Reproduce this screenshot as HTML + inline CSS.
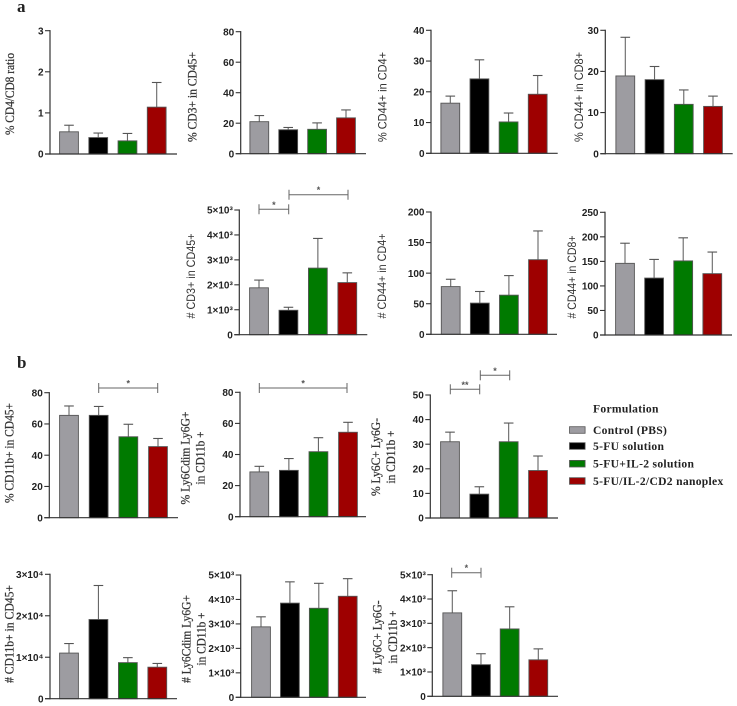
<!DOCTYPE html>
<html lang="en">
<head>
<meta charset="utf-8">
<title>Immune cell populations by formulation</title>
<style>
html,body{margin:0;padding:0;background:#fff;width:737px;height:706px;overflow:hidden}
svg{display:block;filter:blur(0.35px)}
.tick{font:bold 10px "Liberation Sans",sans-serif;fill:#222}
.serif{font:12.6px "Liberation Serif",serif;fill:#333;stroke:#333;stroke-width:.25px}
.sans{font:11.6px "Liberation Sans",sans-serif;fill:#333}
.sec{font:bold 17px "Liberation Serif",serif;fill:#222}
.leg{font:bold 11.6px "Liberation Serif",serif;fill:#222;letter-spacing:.3px}
.star{font:bold 9px "Liberation Sans",sans-serif;fill:#555}
</style>
</head>
<body>
<svg id="figure" width="737" height="706" viewBox="0 0 737 706" xmlns="http://www.w3.org/2000/svg"></svg>
<script>
// ---- data ----
const categories = ['Control (PBS)', '5-FU solution', '5-FU+IL-2 solution', '5-FU/IL-2/CD2 nanoplex'];
const seriesColors = ['#9d9ca1', '#000000', '#007a00', '#9e0000'];

const cd4Cd8Means = [0.54, 0.40, 0.32, 1.14];
const cd4Cd8Upper = [0.70, 0.51, 0.50, 1.74];
const cd4Cd8Ticks = [0, 1, 2, 3];

const cd3PctMeans = [21, 15.7, 16, 23.5];
const cd3PctUpper = [25, 17.2, 20.2, 28.7];
const cd3PctTicks = [0, 20, 40, 60, 80];

const cd44Cd4PctMeans = [16.3, 24.2, 10.2, 19.2];
const cd44Cd4PctUpper = [18.6, 30.4, 13.1, 25.3];
const cd44Cd4PctTicks = [0, 10, 20, 30, 40];

const cd44Cd8PctMeans = [18.9, 18, 12, 11.5];
const cd44Cd8PctUpper = [28.3, 21.2, 15.5, 14];
const cd44Cd8PctTicks = [0, 10, 20, 30];

const cd3CountMeans = [1880, 980, 2670, 2090];
const cd3CountUpper = [2190, 1100, 3860, 2480];
const thousandsTicks = [0, 1000, 2000, 3000, 4000, 5000];
const thousandsLabels = ['0', '1×10³', '2×10³', '3×10³', '4×10³', '5×10³'];

const cd44Cd4CountMeans = [78, 51, 64, 122];
const cd44Cd4CountUpper = [90, 70, 96, 169];
const cd44Cd4CountTicks = [0, 50, 100, 150, 200];

const cd44Cd8CountMeans = [146, 116, 151, 125];
const cd44Cd8CountUpper = [187, 154, 198, 169];
const cd44Cd8CountTicks = [0, 50, 100, 150, 200, 250];

const cd11bPctMeans = [65.5, 65.5, 51.8, 45.5];
const cd11bPctUpper = [71.5, 71.2, 59.8, 50.7];
const cd11bPctTicks = [0, 20, 40, 60, 80];

const ly6dimPctMeans = [28.8, 29.8, 41.8, 54.3];
const ly6dimPctUpper = [32.4, 37.4, 50.8, 60.7];
const ly6dimPctTicks = [0, 20, 40, 60, 80];

const ly6cPctMeans = [31, 9.7, 31, 19.3];
const ly6cPctUpper = [34.9, 12.7, 38.6, 25.2];
const ly6cPctTicks = [0, 10, 20, 30, 40, 50];

const cd11bCountMeans = [11000, 19100, 8700, 7600];
const cd11bCountUpper = [13300, 27300, 9900, 8500];
const cd11bCountTicks = [0, 10000, 20000, 30000];
const cd11bCountLabels = ['0', '1×10⁴', '2×10⁴', '3×10⁴'];

const ly6dimCountMeans = [2880, 3850, 3640, 4130];
const ly6dimCountUpper = [3290, 4720, 4660, 4850];

const ly6cCountMeans = [3430, 1300, 2770, 1500];
const ly6cCountUpper = [4340, 1750, 3680, 1950];

// ---- layout ----
const panels = [
 {id:'cd4-cd8-ratio', means:cd4Cd8Means, upper:cd4Cd8Upper, ticks:cd4Cd8Ticks, ax:50, top:30.7, bot:154, end:177, b0:69, b3:156.7,
  title:['% CD4/CD8 ratio'], len:[82], lx:[9.5], ly:94, font:'serif'},
 {id:'cd3-percent', means:cd3PctMeans, upper:cd3PctUpper, ticks:cd3PctTicks, ax:240.7, top:31.7, bot:153.7, end:366, b0:259.3, b3:346,
  title:['% CD3+ in CD45+'], len:[90], lx:[192], ly:97, font:'serif'},
 {id:'cd44-cd4-percent', means:cd44Cd4PctMeans, upper:cd44Cd4PctUpper, ticks:cd44Cd4PctTicks, ax:431, top:30.3, bot:153.3, end:557.7, b0:450.3, b3:537.7,
  title:['% CD44+ in CD4+'], len:[90], lx:[382.7], ly:97, font:'sans'},
 {id:'cd44-cd8-percent', means:cd44Cd8PctMeans, upper:cd44Cd8PctUpper, ticks:cd44Cd8PctTicks, ax:605.3, top:30.3, bot:153.7, end:732.7, b0:625.3, b3:713,
  title:['% CD44+ in CD8+'], len:[90], lx:[579], ly:97, font:'sans'},
 {id:'cd3-count', means:cd3CountMeans, upper:cd3CountUpper, ticks:thousandsTicks, labels:thousandsLabels, ax:239.3, top:210, bot:334.7, end:367.3, b0:259, b3:347.3,
  title:['# CD3+ in CD45+'], len:[85], lx:[191], ly:276, font:'sans'},
 {id:'cd44-cd4-count', means:cd44Cd4CountMeans, upper:cd44Cd4CountUpper, ticks:cd44Cd4CountTicks, ax:431, top:212, bot:334.3, end:557, b0:450.7, b3:538,
  title:['# CD44+ in CD4+'], len:[85], lx:[382], ly:276, font:'sans'},
 {id:'cd44-cd8-count', means:cd44Cd8CountMeans, upper:cd44Cd8CountUpper, ticks:cd44Cd8CountTicks, ax:605, top:212.3, bot:335, end:732, b0:625, b3:712.3,
  title:['# CD44+ in CD8+'], len:[83], lx:[572], ly:277, font:'sans'},
 {id:'cd11b-percent', means:cd11bPctMeans, upper:cd11bPctUpper, ticks:cd11bPctTicks, ax:49.3, top:392.7, bot:517.7, end:178, b0:69, b3:158,
  title:['% CD11b+ in CD45+'], len:[100], lx:[9], ly:453, font:'serif'},
 {id:'ly6dim-percent', means:ly6dimPctMeans, upper:ly6dimPctUpper, ticks:ly6dimPctTicks, ax:240, top:392.3, bot:516.7, end:366, b0:259.3, b3:348,
  title:['% Ly6Cdim Ly6G+','in CD11b +'], len:[93,53], lx:[185,200], ly:458, font:'serif'},
 {id:'ly6c-percent', means:ly6cPctMeans, upper:ly6cPctUpper, ticks:ly6cPctTicks, ax:430.3, top:395, bot:518, end:558, b0:450, b3:538,
  title:['% Ly6C+ Ly6G-','in CD11b +'], len:[78,53], lx:[375.7,390.7], ly:457, font:'serif'},
 {id:'cd11b-count', means:cd11bCountMeans, upper:cd11bCountUpper, ticks:cd11bCountTicks, labels:cd11bCountLabels, ax:50, top:574.3, bot:698.7, end:177, b0:69, b3:157.3,
  title:['# CD11b+ in CD45+'], len:[98], lx:[9], ly:634, font:'serif'},
 {id:'ly6dim-count', means:ly6dimCountMeans, upper:ly6dimCountUpper, ticks:thousandsTicks, labels:thousandsLabels, ax:240.7, top:575, bot:697.3, end:366, b0:261, b3:347.7,
  title:['# Ly6Cdim Ly6G+','in CD11b +'], len:[88,53], lx:[186,201], ly:639, font:'serif'},
 {id:'ly6c-count', means:ly6cCountMeans, upper:ly6cCountUpper, ticks:thousandsTicks, labels:thousandsLabels, ax:432.3, top:574.7, bot:696.3, end:558, b0:452.3, b3:538.3,
  title:['# Ly6C+ Ly6G-','in CD11b +'], len:[73,53], lx:[377,392.7], ly:637, font:'serif'}
];

const brackets = [
 {x1:259, x2:288.7, y:209.3, label:'*'},
 {x1:289, x2:348, y:194.7, label:'*'},
 {x1:98.7, x2:157.7, y:388, label:'*'},
 {x1:259.3, x2:347, y:388, label:'*'},
 {x1:450.3, x2:479.7, y:389.3, label:'**'},
 {x1:480.3, x2:509.7, y:375.3, label:'*'},
 {x1:451.7, x2:481, y:572.7, label:'*'}
];

// ---- drawing ----
const svg = document.getElementById('figure');
const NS = 'http://www.w3.org/2000/svg';

function shape(tag, parent, name, props) {
  const el = document.createElementNS(NS, tag);
  
  
  for (const k in props) el.setAttribute(k, props[k]);
  parent.appendChild(el);
  return el;
}
function line(parent, name, x1, y1, x2, y2, stroke, width) {
  return shape('line', parent, name, {x1, y1, x2, y2, stroke, 'stroke-width': width});
}
function text(parent, name, cls, x, y, str, anchor, transform) {
  const t = shape('text', parent, name, {class: cls, x, y, 'text-anchor': anchor || 'start'});
  if (transform) t.setAttribute('transform', transform);
  t.textContent = str;
  return t;
}

panels.forEach(function (p) {
  const g = shape('g', svg, 'chart-' + p.id, {});
  const yMax = p.ticks[p.ticks.length - 1];
  const yScale = function (v) { return p.bot - (v / yMax) * (p.bot - p.top); };
  const xScale = function (i) { return p.b0 + (p.b3 - p.b0) * i / (categories.length - 1); };

  p.means.forEach(function (v, i) {
    const x = xScale(i);
    line(g, 'error-stem-' + i, x, yScale(v), x, yScale(p.upper[i]), '#666', 1.1);
    line(g, 'error-cap-' + i, x - 4.8, yScale(p.upper[i]), x + 4.8, yScale(p.upper[i]), '#555', 1.1);
    shape('rect', g, 'bar-' + i, {x: x - 9.4, y: yScale(v), width: 18.8, height: p.bot - yScale(v), fill: seriesColors[i], stroke: '#555', 'stroke-width': 0.9});
  });

  line(g, 'y-axis', p.ax, p.top - 0.6, p.ax, p.bot + 0.6, '#333', 1.2);
  line(g, 'x-axis', p.ax - 5, p.bot, p.end, p.bot, '#333', 1.2);
  p.ticks.forEach(function (v, i) {
    const y = yScale(v);
    line(g, 'y-tick', p.ax - 5, y, p.ax, y, '#333', 1.1);
    text(g, 'y-tick-label', 'tick', p.ax - 6.5, y + 3.6, p.labels ? p.labels[i] : String(v), 'end');
  });
  p.title.forEach(function (s, i) {
    const x = p.lx[i];
    const t = text(g, 'y-axis-title', p.font, x, p.ly, s, 'middle', 'rotate(-90 ' + x + ' ' + p.ly + ')');
    t.setAttribute('dy', '0.35em');
    t.setAttribute('textLength', p.len[i]);
    t.setAttribute('lengthAdjust', 'spacingAndGlyphs');
  });
});

brackets.forEach(function (b) {
  const g = shape('g', svg, 'significance-bracket', {});
  line(g, 'bracket-bar', b.x1, b.y, b.x2, b.y, '#666', 1);
  line(g, 'bracket-left-end', b.x1, b.y - 5, b.x1, b.y + 5, '#666', 1);
  line(g, 'bracket-right-end', b.x2, b.y - 5, b.x2, b.y + 5, '#666', 1);
  text(g, 'significance-label', 'star', (b.x1 + b.x2) / 2, b.y - 1.5, b.label, 'middle');
});

text(svg, 'panel-label-a', 'sec', 17, 12, 'a');
text(svg, 'panel-label-b', 'sec', 17, 368, 'b');

const legend = shape('g', svg, 'legend', {});
text(legend, 'legend-title', 'leg', 593, 412.5, 'Formulation');
const legendRows = [430, 446, 463.7, 481];
categories.forEach(function (c, i) {
  shape('rect', legend, 'legend-swatch', {x: 569.5, y: legendRows[i] - 3.3, width: 15.6, height: 6.6, fill: seriesColors[i], stroke: '#555', 'stroke-width': 0.8});
  text(legend, 'legend-label', 'leg', 593, legendRows[i] + 3.8, c);
});
</script>
</body>
</html>
